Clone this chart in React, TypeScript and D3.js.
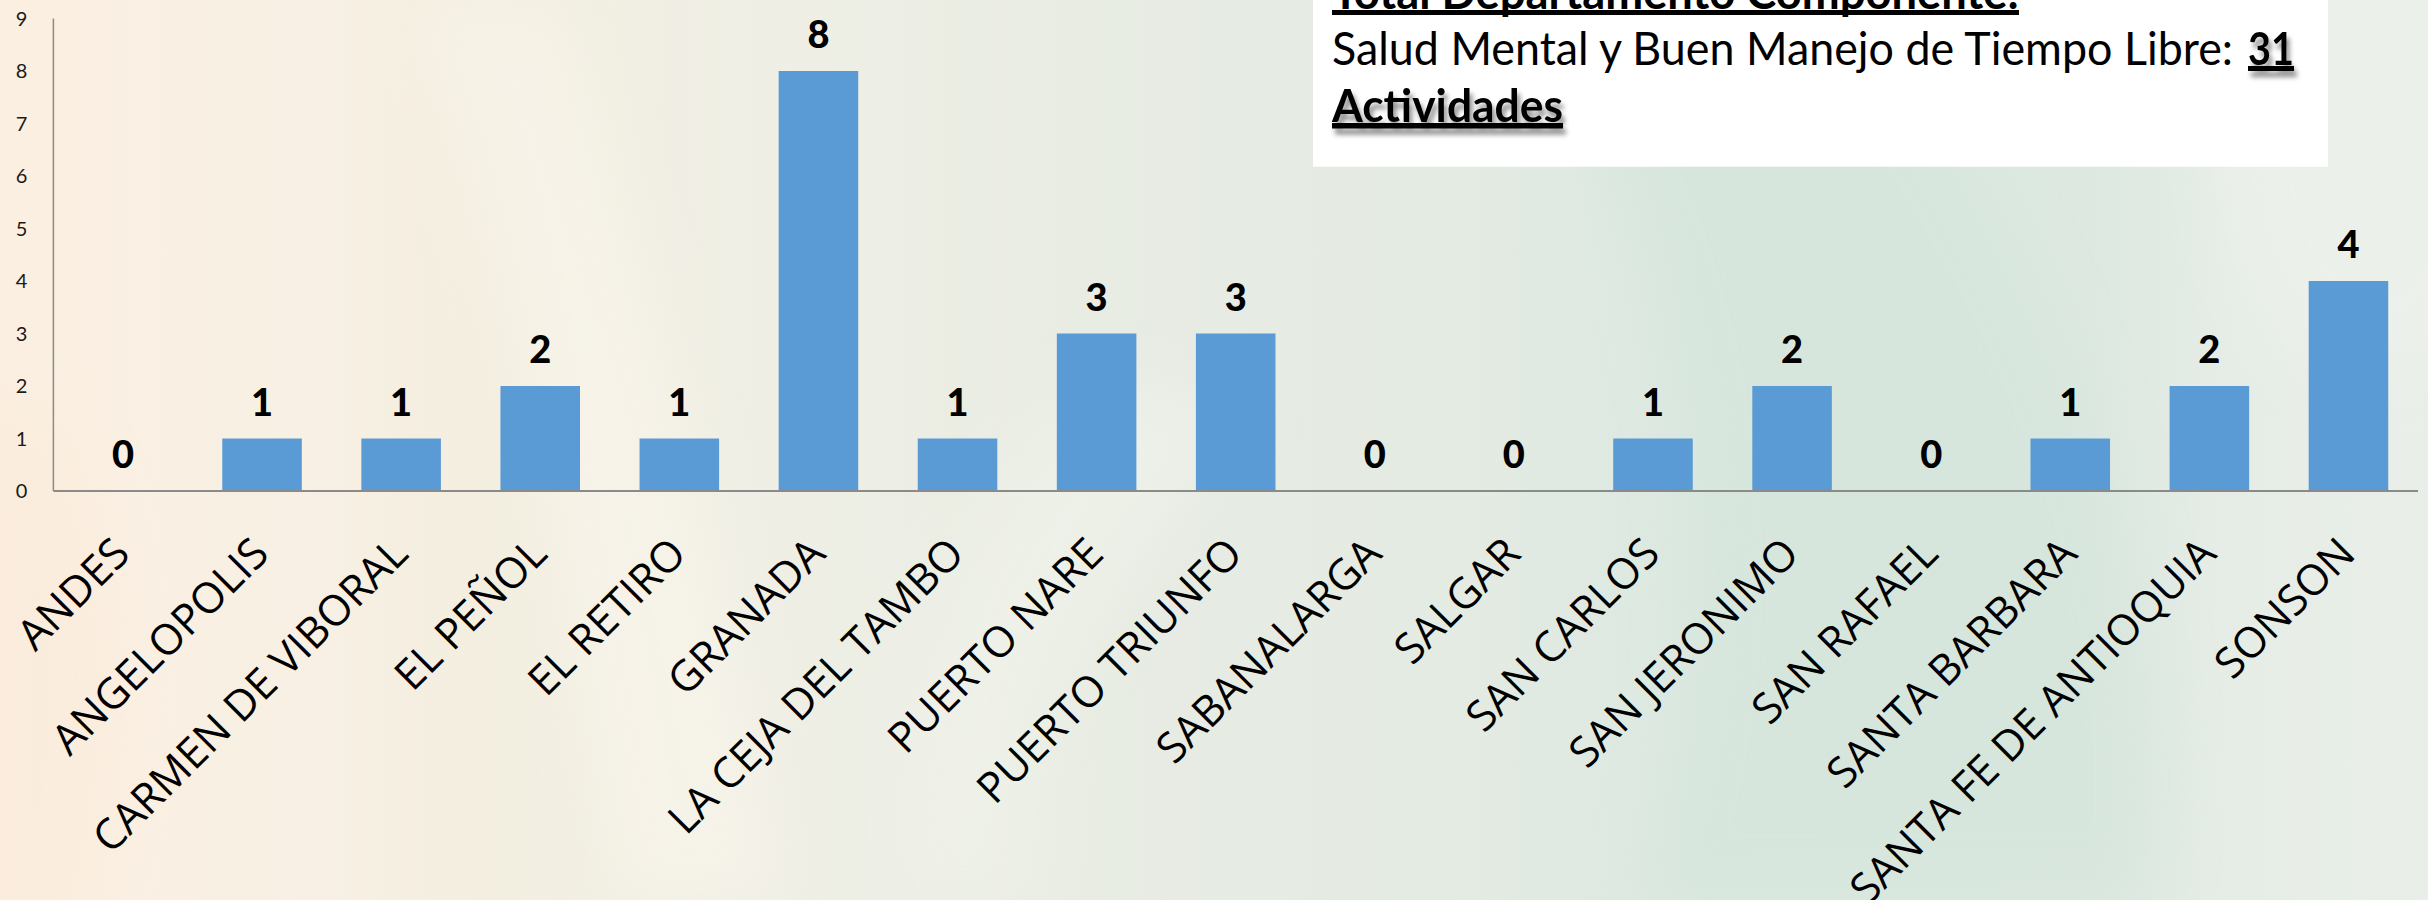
import * as d3 from "d3";

const municipios = [
  "ANDES",
  "ANGELOPOLIS",
  "CARMEN DE VIBORAL",
  "EL PEÑOL",
  "EL RETIRO",
  "GRANADA",
  "LA CEJA DEL TAMBO",
  "PUERTO NARE",
  "PUERTO TRIUNFO",
  "SABANALARGA",
  "SALGAR",
  "SAN CARLOS",
  "SAN JERONIMO",
  "SAN RAFAEL",
  "SANTA BARBARA",
  "SANTA FE DE ANTIOQUIA",
  "SONSON",
];
const actividades = [0, 1, 1, 2, 1, 8, 1, 3, 3, 0, 0, 1, 2, 0, 1, 2, 4];
const yTicks = [0, 1, 2, 3, 4, 5, 6, 7, 8, 9];

const tituloLinea1 = "Total Departamento Componente:";
const tituloLinea2 = "Salud Mental y Buen Manejo de Tiempo Libre:";
const totalActividades = "31";
const tituloLinea3 = "Actividades";

const W = 2428;
const H = 900;
const plot = { left: 53.4, right: 2418, top: 18.5, bottom: 491 };

export default function App() {
  const x = d3
    .scaleBand<string>()
    .domain(municipios)
    .range([plot.left, plot.right])
    .paddingInner(0.428)
    .paddingOuter(0.214);

  const y = d3.scaleLinear().domain([0, 9]).range([plot.bottom, plot.top]);

  const calibri = "Lato, 'Open Sans', sans-serif";

  return (
    <svg
      width={W}
      height={H}
      style={{ position: "absolute", left: 0, top: 0, display: "block" }}
    >
      <defs>
        <linearGradient id="bg" x1="0" y1="0" x2="1" y2="0">
          <stop offset="0" stopColor="#fbefe1" />
          <stop offset="0.12" stopColor="#f8f0e4" />
          <stop offset="0.2" stopColor="#f3eee0" />
          <stop offset="0.3" stopColor="#f0efe5" />
          <stop offset="0.45" stopColor="#e8ece3" />
          <stop offset="0.6" stopColor="#e4ebe3" />
          <stop offset="0.7" stopColor="#dbe8e0" />
          <stop offset="0.86" stopColor="#dce8e0" />
          <stop offset="0.92" stopColor="#e6ede6" />
          <stop offset="1" stopColor="#e9eee8" />
        </linearGradient>
        <filter id="soft" x="-50%" y="-50%" width="200%" height="200%">
          <feGaussianBlur stdDeviation="30" />
        </filter>
        <filter id="shadow" x="-10%" y="-50%" width="130%" height="250%">
          <feDropShadow dx="3" dy="6" stdDeviation="2.5" floodColor="#000" floodOpacity="0.45" />
        </filter>
      </defs>

      {/* fondo */}
      <rect x={0} y={0} width={W} height={H} fill="url(#bg)" />
      <g filter="url(#soft)" opacity={0.55}>
        <path d="M420,0 C520,300 560,600 620,900 L780,900 C740,600 640,280 560,0 Z" fill="#faf6ec" />
        <path d="M1500,0 C1700,250 1750,600 1640,900 L2150,900 C2200,600 2050,250 1850,0 Z" fill="#d4e5db" />
        <path d="M900,900 C880,700 950,500 1100,380 L1250,420 C1100,560 1020,720 1030,900 Z" fill="#f2f4ec" />
        <ellipse cx={2380} cy={120} rx={160} ry={260} fill="#f0f3ee" />
        <ellipse cx={0} cy={700} rx={120} ry={300} fill="#fbebda" />
      </g>

      {/* cuadro de texto */}
      <rect x={1313} y={-20} width={1015} height={186.7} fill="#ffffff" />
      <g fontFamily={calibri} fill="#000">
        <text x={1332} y={8.5} fontSize={45} fontWeight={700} textLength={687} lengthAdjust="spacingAndGlyphs">
          {tituloLinea1}
        </text>
        <rect x={1332} y={10} width={687} height={5} fill="#000" />
        <text x={1332} y={65} fontSize={46} textLength={901} lengthAdjust="spacingAndGlyphs">
          {tituloLinea2}
        </text>
        <g filter="url(#shadow)">
          <text x={2248} y={65} fontSize={45} fontWeight={700} textLength={46} lengthAdjust="spacingAndGlyphs">
            {totalActividades}
          </text>
          <rect x={2248} y={66} width={46} height={5} fill="#000" />
          <text x={1332} y={121.7} fontSize={45} fontWeight={700} textLength={231} lengthAdjust="spacingAndGlyphs">
            {tituloLinea3}
          </text>
          <rect x={1332} y={123} width={231} height={5.5} fill="#000" />
        </g>
      </g>

      {/* ejes */}
      <line x1={plot.left} x2={plot.left} y1={plot.top} y2={plot.bottom} stroke="#8a8a8a" strokeWidth={1.5} />
      {yTicks.map((t) => (
        <text
          key={t}
          x={21.5}
          y={y(t)}
          dy="0.36em"
          textAnchor="middle"
          fontFamily={calibri}
          fontSize={20}
          fill="#1a1a1a"
        >
          {t}
        </text>
      ))}

      {/* barras */}
      {municipios.map((m, i) => (
        <rect
          key={m}
          x={x(m)}
          y={y(actividades[i])}
          width={x.bandwidth()}
          height={plot.bottom - y(actividades[i])}
          fill="#5b9bd5"
        />
      ))}
      <line x1={plot.left} x2={plot.right} y1={plot.bottom} y2={plot.bottom} stroke="#8a8a8a" strokeWidth={2} />

      {/* etiquetas de valor */}
      {municipios.map((m, i) => (
        <text
          key={m}
          x={(x(m) ?? 0) + x.bandwidth() / 2}
          y={y(actividades[i]) - 23}
          textAnchor="middle"
          fontFamily={calibri}
          fontWeight={900}
          fontSize={38}
          fill="#000"
        >
          {actividades[i]}
        </text>
      ))}

      {/* etiquetas de categoría */}
      {municipios.map((m) => {
        const cx = (x(m) ?? 0) + x.bandwidth() / 2 + 9;
        const cy = 556;
        return (
          <text
            key={m}
            x={cx}
            y={cy}
            transform={`rotate(-45, ${cx}, ${cy})`}
            textAnchor="end"
            fontFamily="'Open Sans', sans-serif"
            fontSize={42.5}
            fill="#000"
          >
            {m}
          </text>
        );
      })}
    </svg>
  );
}
